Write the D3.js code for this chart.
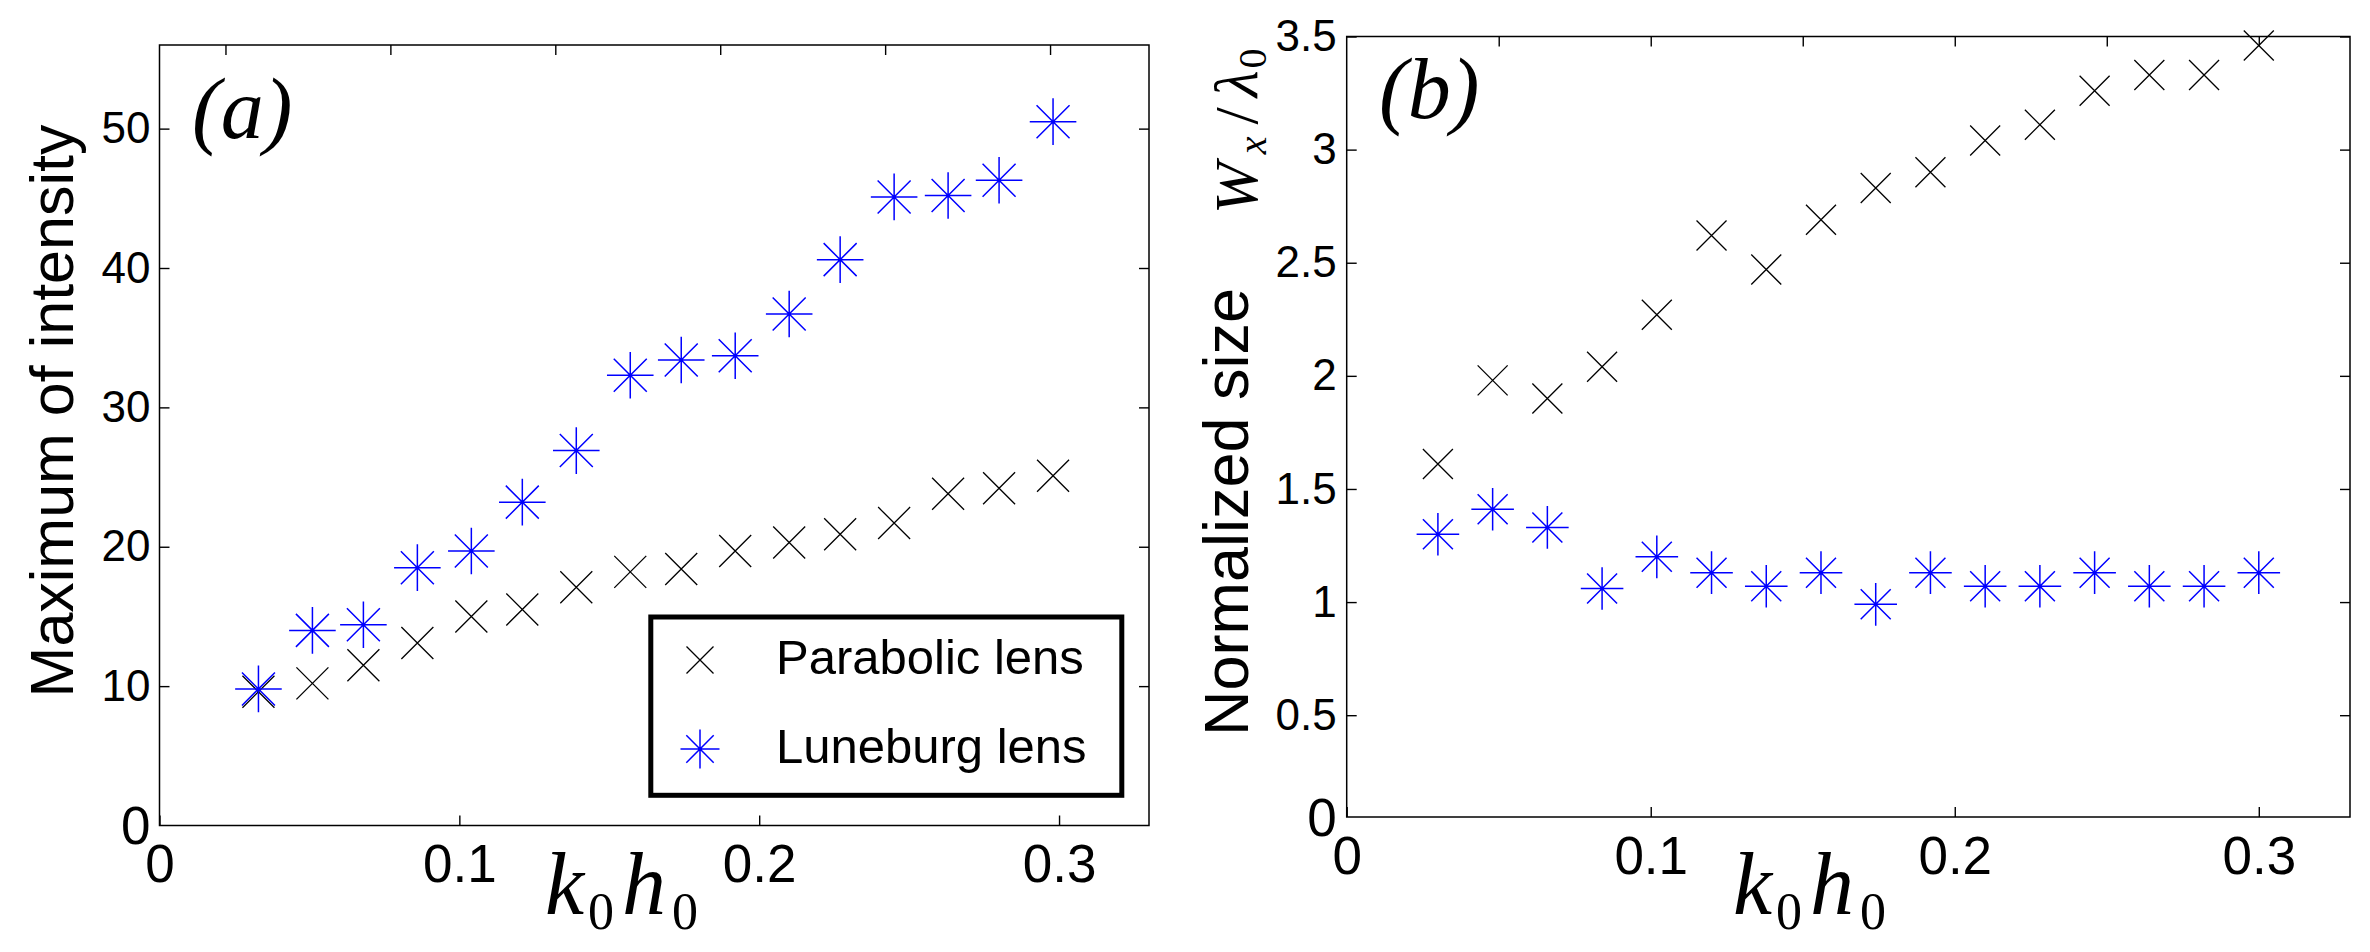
<!DOCTYPE html>
<html>
<head>
<meta charset="utf-8">
<script src="https://cdn.jsdelivr.net/npm/d3@7"></script>
<style>
  body { margin: 0; background: #fff; }
  text { font-family: "Liberation Sans", Arial, sans-serif; }
  .math { font-family: "Liberation Serif", "Times New Roman", serif; font-style: italic; }
  .up { font-style: normal; }
</style>
</head>
<body>
<svg id="fig" width="2370" height="952"></svg>
<script>
// panel (a): maximum of intensity
const khA = [0.033, 0.051, 0.068, 0.086, 0.104, 0.121, 0.139, 0.157, 0.174, 0.192, 0.210, 0.227, 0.245, 0.263, 0.280, 0.298];
const parabolicA = [9.6, 10.2, 11.5, 13.1, 15.0, 15.5, 17.1, 18.2, 18.4, 19.7, 20.3, 20.9, 21.7, 23.8, 24.2, 25.1];
const luneburgA = [9.8, 14.0, 14.4, 18.5, 19.7, 23.2, 26.9, 32.3, 33.4, 33.7, 36.7, 40.6, 45.1, 45.2, 46.3, 50.5];

// panel (b): normalized size W_x / lambda_0
const khB = [0.030, 0.048, 0.066, 0.084, 0.102, 0.120, 0.138, 0.156, 0.174, 0.192, 0.210, 0.228, 0.246, 0.264, 0.282, 0.300];
const parabolicB = [1.61, 1.98, 1.90, 2.04, 2.27, 2.62, 2.47, 2.69, 2.83, 2.90, 3.04, 3.11, 3.26, 3.33, 3.33, 3.46];
const luneburgB = [1.30, 1.41, 1.33, 1.06, 1.20, 1.13, 1.07, 1.13, 0.99, 1.13, 1.07, 1.07, 1.13, 1.07, 1.07, 1.13];

const xTicks = [0, 0.1, 0.2, 0.3];
const yTicksA = [10, 20, 30, 40, 50];
const yTicksB = [0.5, 1, 1.5, 2, 2.5, 3, 3.5];
// the top edge ticks do not line up with the bottom ones in the original
const topTicksA = [0.022, 0.077, 0.132, 0.187, 0.242, 0.297];
const topTicksB = [0.05, 0.1, 0.15, 0.2, 0.25, 0.3];
const legendLabels = ['Parabolic lens', 'Luneburg lens'];

const svg = d3.select('#fig');
const fmt = d => String(+d.toFixed(2)); // matlab style: 1, 1.5, 0.1

function xPath(cx, cy, r) {
  return `M${cx - r},${cy - r}L${cx + r},${cy + r}M${cx - r},${cy + r}L${cx + r},${cy - r}`;
}

function starPath(cx, cy, r, d) {
  return `M${cx - r},${cy}H${cx + r}M${cx},${cy - r}V${cy + r}` + xPath(cx, cy, d);
}

function drawPanel(p) {
  const x = d3.scaleLinear().domain([0, 0.33]).range([p.left, p.right]);
  const y = d3.scaleLinear().domain([p.ymin, p.ymax]).range([p.bottom, p.top]);
  const g = svg.append('g');

  // y ticks + labels
  const yAxis = g.append('g')
    .attr('transform', `translate(${p.left},0)`)
    .call(d3.axisLeft(y).tickValues(p.yTicks).tickSize(-10).tickSizeOuter(0).tickPadding(p.yPad).tickFormat(fmt));
  yAxis.selectAll('text').attr('font-size', 44).attr('fill', '#000').attr('font-family', '"Liberation Sans", Arial, sans-serif');
  g.append('g')
    .attr('transform', `translate(${p.right},0)`)
    .call(d3.axisRight(y).tickValues(p.yTicks).tickSize(-10).tickSizeOuter(0).tickFormat(''));

  // x ticks + labels
  const xAxis = g.append('g')
    .attr('transform', `translate(0,${p.bottom})`)
    .call(d3.axisBottom(x).tickValues(xTicks).tickSize(-10).tickSizeOuter(0).tickPadding(19).tickFormat(fmt));
  xAxis.selectAll('text').attr('font-size', 53).attr('fill', '#000').attr('font-family', '"Liberation Sans", Arial, sans-serif');
  g.append('g')
    .attr('transform', `translate(0,${p.top})`)
    .call(d3.axisTop(x).tickValues(p.topTicks).tickSize(-10).tickSizeOuter(0).tickFormat(''));

  g.selectAll('.domain').remove();
  g.selectAll('.tick line').attr('stroke', '#000').attr('stroke-width', 1.4);

  // the bottom "0" of the y axis is drawn bigger, like the x labels
  g.append('text')
    .attr('x', p.left - p.yPad).attr('y', p.bottom)
    .attr('dy', '0.35em').attr('text-anchor', 'end')
    .attr('font-size', 53).text('0');

  // frame
  g.append('rect')
    .attr('x', p.left).attr('y', p.top)
    .attr('width', p.right - p.left).attr('height', p.bottom - p.top)
    .attr('fill', 'none').attr('stroke', '#000').attr('stroke-width', 1.5);

  // markers: parabolic first, luneburg on top
  g.append('g').selectAll('path')
    .data(p.kh.map((k, i) => [k, p.parabolic[i]]))
    .join('path')
    .attr('d', d => xPath(x(d[0]), y(d[1]), p.xr))
    .attr('stroke', '#000').attr('stroke-width', 1.3).attr('fill', 'none');
  g.append('g').selectAll('path')
    .data(p.kh.map((k, i) => [k, p.luneburg[i]]))
    .join('path')
    .attr('d', d => starPath(x(d[0]), y(d[1]), p.sr, p.sd))
    .attr('stroke', '#0000ff').attr('stroke-width', 1.5).attr('fill', 'none');

  // panel tag
  g.append('text').attr('class', 'math')
    .attr('x', p.tagX).attr('y', p.tagY)
    .attr('font-size', 86).text(p.tag);

  // x label k0h0
  const xl = g.append('text').attr('class', 'math')
    .attr('x', p.xlabX).attr('y', 914).attr('font-size', 88);
  xl.append('tspan').text('k');
  xl.append('tspan').attr('class', 'up').attr('dx', 4).attr('dy', 15).attr('font-size', 52).text('0');
  xl.append('tspan').attr('dx', 8).attr('dy', -15).text('h');
  xl.append('tspan').attr('class', 'up').attr('dx', 6).attr('dy', 15).attr('font-size', 52).text('0');
  return g;
}

const gA = drawPanel({
  left: 159.5, right: 1149, top: 45, bottom: 825.5, ymin: 0, ymax: 56,
  yTicks: yTicksA, topTicks: topTicksA, yPad: 9,
  kh: khA, parabolic: parabolicA, luneburg: luneburgA,
  xr: 16, sr: 23.3, sd: 16.5,
  tag: '(a)', tagX: 192, tagY: 138, xlabX: 545
});

const gB = drawPanel({
  left: 1346.7, right: 2350, top: 36.5, bottom: 817, ymin: 0.05, ymax: 3.5,
  yTicks: yTicksB, topTicks: topTicksB, yPad: 10,
  kh: khB, parabolic: parabolicB, luneburg: luneburgB,
  xr: 15, sr: 21.3, sd: 15,
  tag: '(b)', tagX: 1379, tagY: 118, xlabX: 1733
});

// y labels
gA.append('text')
  .attr('transform', 'translate(73,411) rotate(-90)')
  .attr('text-anchor', 'middle').attr('font-size', 61)
  .text('Maximum of intensity');

gB.append('text')
  .attr('transform', 'translate(1248,736) rotate(-90)')
  .attr('font-size', 63)
  .text('Normalized size');

const wl = gB.append('text').attr('class', 'math')
  .attr('transform', 'translate(1257,214) rotate(-90)')
  .attr('font-size', 62);
wl.append('tspan').text('W');
wl.append('tspan').attr('dx', 8).attr('dy', 9).attr('font-size', 40).text('x');
wl.append('tspan').attr('class', 'up').attr('dx', 12).attr('dy', -9).text('/');
wl.append('tspan').attr('dx', 10).text('λ');
wl.append('tspan').attr('class', 'up').attr('dx', 2).attr('dy', 9).attr('font-size', 40).text('0');

// legend in panel (a)
const leg = gA.append('g');
leg.append('rect')
  .attr('x', 650.8).attr('y', 617).attr('width', 471).attr('height', 178.3)
  .attr('fill', '#fff').attr('stroke', '#000').attr('stroke-width', 5);
const legY = [660, 749];
leg.append('path').attr('d', xPath(700, legY[0], 13.5))
  .attr('stroke', '#000').attr('stroke-width', 1.3).attr('fill', 'none');
leg.append('path').attr('d', starPath(700, legY[1], 19.5, 13.7))
  .attr('stroke', '#0000ff').attr('stroke-width', 1.5).attr('fill', 'none');
leg.selectAll('text.lbl')
  .data(legendLabels)
  .join('text')
  .attr('class', 'lbl')
  .attr('x', 776).attr('y', (d, i) => legY[i] + 14)
  .attr('font-size', 49)
  .text(d => d);
</script>
</body>
</html>
